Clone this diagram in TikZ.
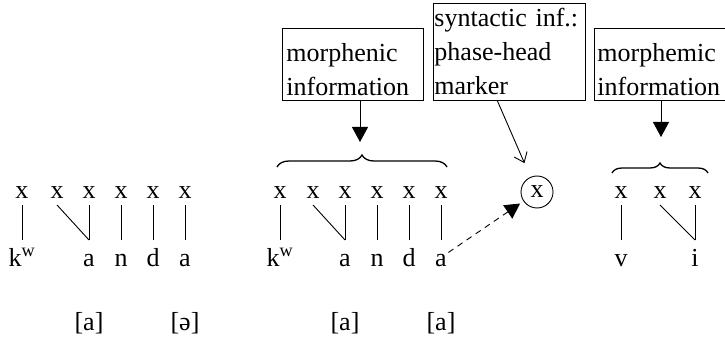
\documentclass[tikz,border=0pt]{standalone}
\usepackage{fontspec}
\setmainfont{Liberation Serif}
\usetikzlibrary{positioning,arrows.meta,decorations.pathreplacing}

\begin{document}
\begin{tikzpicture}[x=1pt,y=-1pt,node distance=32pt,on grid,line width=0.9pt,
    font=\fontsize{26}{34}\selectfont,
    skel/.style={inner sep=0pt,outer xsep=0pt,outer ysep=7pt,text height=11pt,text depth=0pt},
    seg/.style={inner sep=0pt,outer xsep=0pt,outer ysep=9pt,text height=17pt,text depth=0pt},
    phon/.style={inner sep=0pt,text height=19pt,text depth=6pt},
    infobox/.style={draw,align=left,anchor=south west,inner ysep=0pt},
    infoarrow/.style={-{Triangle[length=15pt,width=16pt]}},
    morph/.style={decorate,decoration={brace,amplitude=#1},line width=1.3pt}]
\useasboundingbox (0,0) rectangle (725,339);
% left: no phase head
\node[skel] (x1) at (22,192.5) {x};
\node[skel] (x2) [right=35pt of x1] {x};
\node[skel] (x3) [right=of x2] {x};
\node[skel] (x4) [right=of x3] {x};
\node[skel] (x5) [right=of x4] {x};
\node[skel] (x6) [right=of x5] {x};
\node[seg] (k1) [below=65pt of x1] {k\textsuperscript{w}};
\node[seg] (a1) [below=65pt of x3] {a};
\node[seg] (n1) [below=65pt of x4] {n};
\node[seg] (d1) [below=65pt of x5] {d};
\node[seg] (a2) [below=65pt of x6] {a};
\node[phon] (p1) [below=66pt of a1] {[a]};
\node[phon] (p2) [below=66pt of a2] {[ə]};
\draw (x1) -- (k1);
\draw (x2.south) -- (a1.north);
\draw (x3) -- (a1);
\draw (x4) -- (n1);
\draw (x5) -- (d1);
\draw (x6) -- (a2);
% middle: with phase-head marker
\node[skel] (y1) at (280,192.5) {x};
\node[skel] (y2) [right=33pt of y1] {x};
\node[skel] (y3) [right=of y2] {x};
\node[skel] (y4) [right=of y3] {x};
\node[skel] (y5) [right=of y4] {x};
\node[skel] (y6) [right=of y5] {x};
\node[seg] (k2) [below=65pt of y1] {k\textsuperscript{w}};
\node[seg] (a3) [below=65pt of y3] {a};
\node[seg] (n2) [below=65pt of y4] {n};
\node[seg] (d2) [below=65pt of y5] {d};
\node[seg] (a4) [below=65pt of y6] {a};
\node[phon] (p3) [below=66pt of a3] {[a]};
\node[phon] (p4) [below=66pt of a4] {[a]};
\draw (y1) -- (k2);
\draw (y2.south) -- (a3.north);
\draw (y3) -- (a3);
\draw (y4) -- (n2);
\draw (y5) -- (d2);
\draw (y6) -- (a4);
\node[infobox,text width=133pt,inner xsep=4pt,text height=33pt,text depth=39pt]
    (box1) at (282,101) {morphenic\\information};
\coordinate (tip1) at (360,142);
\draw[infoarrow] (box1.south -| tip1) -- (tip1);
\draw[morph=12pt] (277,167) -- (447,167);
\node[draw,circle,minimum size=32pt,inner sep=0pt] (xc) at (537,192) {x};
\node[infobox,text width=150pt,inner xsep=1pt,text height=23pt,text depth=74pt]
    (box2) at (433,101) {syntactic inf.:\\phase-head\\marker};
\draw[-{Straight Barb[length=9pt,width=14pt]},shorten >=15pt] ([xshift=-12pt]box2.south) -- (xc);
\draw[infoarrow,dash pattern=on 6pt off 5pt,shorten <=2pt,shorten >=4pt] (a4) -- (xc);
% right
\node[skel] (z1) at (621,192.5) {x};
\node[skel] (z2) [right=39pt of z1] {x};
\node[skel] (z3) [right=35pt of z2] {x};
\node[seg] (v1) [below=65pt of z1] {v};
\node[seg] (i1) [below=65pt of z3] {i};
\draw (z1) -- (v1);
\draw (z2.south) -- (i1.north);
\draw (z3) -- (i1);
\node[infobox,text width=131pt,inner xsep=3pt,text height=33pt,text depth=39pt]
    (box3) at (594,101) {morphemic\\information};
\coordinate (tip3) at (661,137);
\draw[infoarrow] (box3.south -| tip3) -- (tip3);
\draw[morph=10pt] (612,173) -- (708,173);
\end{tikzpicture}
\end{document}
